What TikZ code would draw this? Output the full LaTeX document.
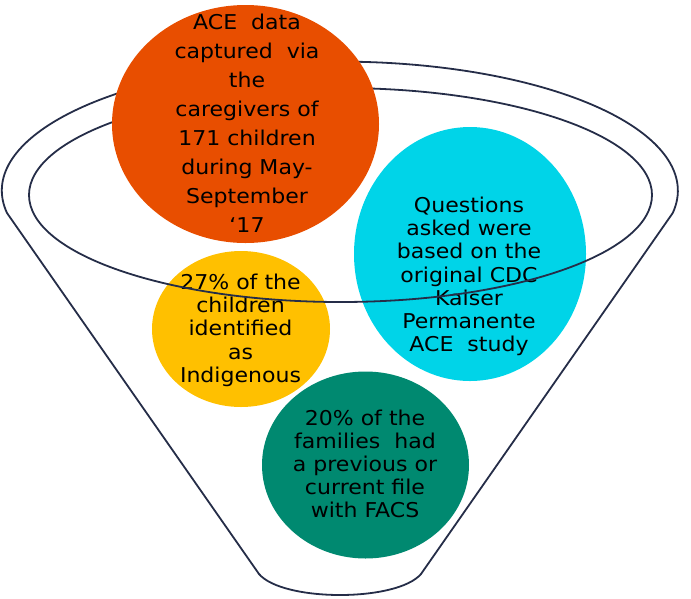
\documentclass[tikz,border=0pt]{standalone}
\usepackage{fontspec}
\newfontfamily\dv[FakeStretch=1.08]{DejaVu Sans}
\usetikzlibrary{shapes.geometric}
\definecolor{cOrange}{RGB}{232,78,0}
\definecolor{cCyan}{RGB}{0,212,232}
\definecolor{cYellow}{RGB}{255,192,0}
\definecolor{cGreen}{RGB}{0,137,112}
\definecolor{cLine}{RGB}{37,45,72}
\begin{document}
\begin{tikzpicture}[x=1pt,y=-1pt,
  blob/.style={ellipse, draw=none, inner sep=0pt},
  txt/.style={align=center, inner sep=0pt, text=black, font=\dv\fontsize{20.4}{23.2}\selectfont},
  funnel/.style={draw=cLine, line width=1.8pt, line join=round}]
\useasboundingbox (0,0) rectangle (691,598);
% lower blobs
\node[blob, fill=cYellow, minimum width=178pt, minimum height=156pt] (yel) at (241,329) {};
\node[blob, fill=cCyan, minimum width=232pt, minimum height=254pt] (cya) at (470,254) {};
\node[blob, fill=cGreen, minimum width=207pt, minimum height=187pt] (gre) at (365.5,465) {};
\node[txt] (yeltxt) at (240.5,330.2) {27\% of the\\children\\identified\\as\\Indigenous};
\node[txt] (cyatxt) at (469,276.4) {Questions\\asked were\\based on the\\original CDC\\Kaiser\\Permanente\\ACE\ \ study};
\node[txt] (gretxt) at (365,463.8) {20\% of the\\families\ \ had\\a previous or\\current file\\with FACS};
% funnel
\coordinate (lc) at (7,213);
\coordinate (rc) at (675,213);
\coordinate (lb) at (259,574);
\coordinate (rb) at (421,574);
\draw[funnel] (lb) -- (lc) arc[start angle=170, end angle=370, x radius=338, y radius=129] -- (rb)
  .. controls (397,602) and (283,602) .. (lb) -- cycle;
\coordinate (ic) at (340.5,195);
\draw[funnel] (ic) ellipse[x radius=311.5, y radius=107];
% top blob
\node[blob, fill=cOrange, minimum width=267pt, minimum height=238pt] (ora) at (245.5,124) {};
\node[txt, font=\dv\fontsize{20.4}{29.1}\selectfont] (oratxt) at (247,123.3) {ACE\ \ data\\captured\ \ via\\the\\caregivers of\\171 children\\during May-\\September\\‘17};
\end{tikzpicture}
\end{document}
